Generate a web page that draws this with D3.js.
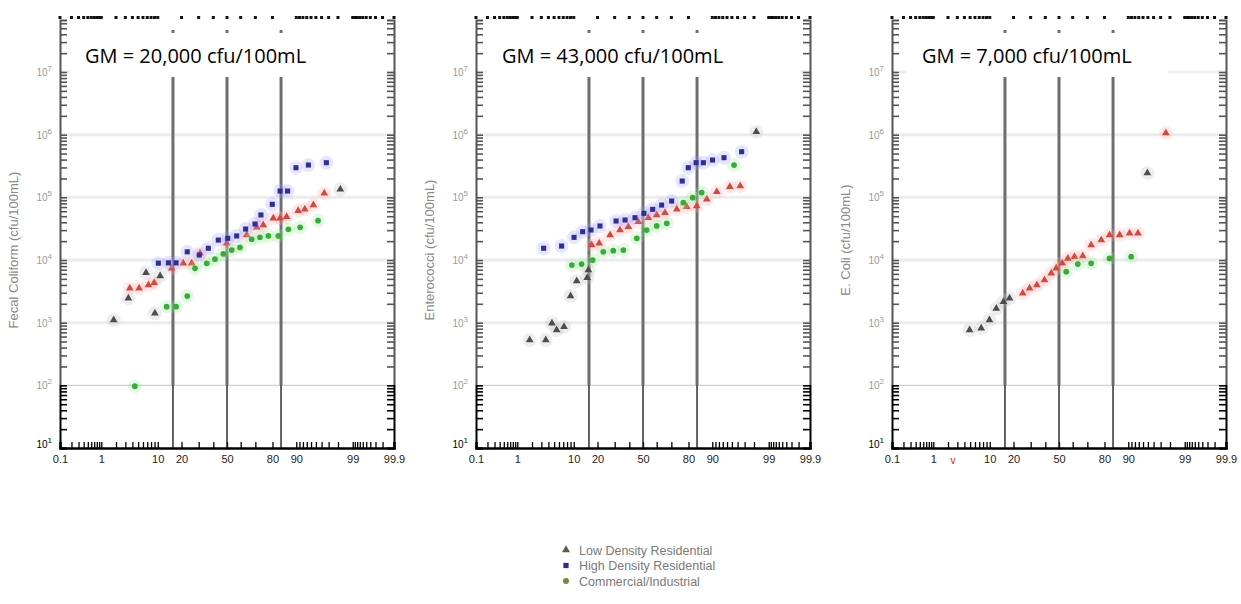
<!DOCTYPE html>
<html lang="en">
<head>
<meta charset="utf-8">
<title>Probability plots</title>
<script src="https://cdn.jsdelivr.net/npm/d3@7"></script>
<style>
  body { margin: 0; background: #fff; }
  text { font-family: "Liberation Sans", Arial, sans-serif; }
</style>
</head>
<body>
<script>
// ---- data (percent exceeded / plotting position, concentration cfu/100mL) ----
var yTitles = ["Fecal Coliform (cfu/100mL)", "Enterococci (cfu/100mL)", "E. Coli (cfu/100mL)"];
var gmLabels = ["GM = 20,000 cfu/100mL", "GM = 43,000 cfu/100mL", "GM = 7,000 cfu/100mL"];
var legendNames = ["Low Density Residential", "High Density Residential", "Commercial/Industrial"];

var probTicks = [0.1,0.2,0.3,0.4,0.5,0.6,0.7,0.8,0.9,1,2,3,4,5,6,7,8,9,10,20,30,40,50,60,70,80,90,
                 91,92,93,94,95,96,97,98,99,99.1,99.2,99.3,99.4,99.5,99.6,99.7,99.8,99.9];
var probLabels = [0.1, 1, 10, 20, 50, 80, 90, 99, 99.9];
var refLines = [15.87, 50, 84.13];
var decades = [1, 2, 3, 4, 5, 6, 7];

var fecalLow  = [[1.8,1100],[3.4,2450],[6.7,6270],[9.1,1410],[10.8,5560],[98.2,134000]];
var fecalHigh = [[10.2,8900],[13.9,9000],[17.3,9000],[23.1,13500],[30.4,12000],[36.5,15400],[43.6,20800],
                 [50.5,22200],[57.1,24200],[63.5,31200],[69.8,37500],[73.5,52300],[79.9,77400],[83.7,126000],
                 [86.9,126000],[89.9,297000],[93.4,328000],[96.7,357000]];
var fecalComm = [[4.4,97],[13.2,1800],[17.3,1800],[23.1,2660],[27.7,7360],[35.4,8850],[41.2,10300],[47.3,12500],
                 [53.5,14400],[59.5,15900],[67.6,21400],[72.9,23000],[77.8,24200],[82.9,24200],[87.2,30900],
                 [91.2,33200],[95.4,42400]];
var fecalRed  = [[3.6,3530],[5.2,3530],[7.3,3990],[8.9,4340],[15.3,7360],[20.9,8850],[25.7,8850],[30.9,12800],
                 [49.8,18500],[64.2,25100],[70.9,33200],[74.9,36100],[80.4,46300],[83.7,46300],[86.5,49100],
                 [90.6,61200],[92.5,64400],[94.5,75300],[96.4,116000]];

var entLow  = [[1.8,528],[3.6,528],[4.6,977],[5.5,764],[7.2,863],[9.0,2660],[11.0,4630],[15.1,5210],[15.6,6920],
               [98.2,1110000]];
var entHigh = [[3.3,15400],[6.6,16700],[10.1,23000],[13.2,28300],[16.8,30100],[21.3,34900],[30.9,41900],
               [37.0,43500],[44.1,47300],[50.7,55600],[57.1,64400],[63.5,75300],[70.2,87300],[76.6,182000],
               [79.9,297000],[83.7,357000],[86.8,357000],[90.1,394000],[93.3,429000],[96.6,535000]];
var entComm = [[9.4,8320],[12.8,8630],[17.6,10000],[23.1,13500],[29.1,14100],[35.8,14400],[45.4,22200],
               [52.7,30100],[60.0,34900],[67.0,38500],[77.2,82000],[82.1,98600],[86.1,119000],[95.4,328000]];
var entRed  = [[17.1,17300],[20.9,18500],[27.1,25100],[33.5,30100],[39.3,34000],[46.5,40800],[53.9,47300],
               [60.0,52300],[65.8,56900],[73.4,64400],[79.1,70800],[84.0,72700],[88.1,92900],[91.4,123000],
               [94.6,148000],[96.4,152000]];

var ecoliLow  = [[4.9,764],[7.5,813],[9.9,1100],[12.3,1690],[15.2,2160],[18.0,2450],[94.9,244000]];
var ecoliHigh = [];
var ecoliComm = [[55.3,6500],[63.6,8630],[72.4,8850],[82.5,10600],[90.9,11300]];
var ecoliRed  = [[25.1,2940],[29.3,3530],[34.1,3990],[39.4,4800],[44.3,6140],[47.9,7360],[52.4,8850],
                 [56.5,10600],[61.3,11300],[67.0,11600],[72.4,17300],[78.3,20800],[82.5,25100],[86.9,25100],
                 [90.4,26700],[92.8,26700],[97.6,1060000]];

var panelData = [
    [fecalRed, fecalComm, fecalHigh, fecalLow],
    [entRed, entLow, entComm, entHigh],
    [ecoliRed, ecoliComm, ecoliHigh, ecoliLow]
];
var seriesStyle = new Map([
    [fecalLow, "low"], [entLow, "low"], [ecoliLow, "low"],
    [fecalHigh, "high"], [entHigh, "high"], [ecoliHigh, "high"],
    [fecalComm, "comm"], [entComm, "comm"], [ecoliComm, "comm"],
    [fecalRed, "red"], [entRed, "red"], [ecoliRed, "red"]
]);
var styles = {
    low:  {sym: d3.symbolTriangle, fill: "#4d4d4d", halo: "#bbbbbb"},
    high: {sym: d3.symbolSquare,   fill: "#2e2e96", halo: "#9a9aff"},
    comm: {sym: d3.symbolCircle,   fill: "#33b033", halo: "#9be89b"},
    red:  {sym: d3.symbolTriangle, fill: "#d8473c", halo: "#ffb0b0"}
};

var width = 1241, height = 604;
var lefts = [60, 476, 892];
var plotW = 334;
var top0 = 20, bottom0 = 448, split = 385;

var svg = d3.select("body").append("svg")
    .attr("width", width)
    .attr("height", height);

var defs = svg.append("defs");
defs.append("clipPath").attr("id", "clipUp")
    .append("rect").attr("x", 0).attr("y", 0).attr("width", width).attr("height", split);
defs.append("clipPath").attr("id", "clipDown")
    .append("rect").attr("x", 0).attr("y", split).attr("width", width).attr("height", height - split);

// inverse normal cdf (Acklam)
function probit(p){
    var a=[-39.69683028665376,220.9460984245205,-275.9285104469687,138.3577518672690,-30.66479806614716,2.506628277459239];
    var b=[-54.47609879822406,161.5858368580409,-155.6989798598866,66.80131188771972,-13.28068155288572];
    var c=[-0.007784894002430293,-0.3223964580411365,-2.400758277161838,-2.549732539343734,4.374664141464968,2.938163982698783];
    var d=[0.007784695709041462,0.3224671290700398,2.445134137142996,3.754408661907416];
    var pl = 0.02425, q, r;
    if (p < pl) {
        q = Math.sqrt(-2*Math.log(p));
        return (((((c[0]*q+c[1])*q+c[2])*q+c[3])*q+c[4])*q+c[5])/((((d[0]*q+d[1])*q+d[2])*q+d[3])*q+1);
    }
    if (p > 1-pl) {
        q = Math.sqrt(-2*Math.log(1-p));
        return -(((((c[0]*q+c[1])*q+c[2])*q+c[3])*q+c[4])*q+c[5])/((((d[0]*q+d[1])*q+d[2])*q+d[3])*q+1);
    }
    q = p - 0.5; r = q*q;
    return (((((a[0]*r+a[1])*r+a[2])*r+a[3])*r+a[4])*r+a[5])*q/(((((b[0]*r+b[1])*r+b[2])*r+b[3])*r+b[4])*r+1);
}

var y = d3.scaleLog().domain([10, 6.76e7]).range([bottom0, top0]);
var minorVals = [];
decades.forEach(function(e){
    for (var m = 1; m <= 9; m++) {
        var v = m * Math.pow(10, e);
        if (v <= 6.76e7) minorVals.push(v);
    }
});

function drawPanel(i){
    var left = lefts[i], right = left + plotW;
    var x = d3.scaleLinear().domain([probit(0.001), probit(0.999)]).range([left, right]);
    var px = function(p){ return x(probit(p / 100)); };
    var g = svg.append("g");

    // decade grid lines
    g.selectAll(".grid").data(decades.slice(1)).enter().append("line")
        .attr("x1", left).attr("x2", right)
        .attr("y1", function(d){ return y(Math.pow(10, d)); })
        .attr("y2", function(d){ return y(Math.pow(10, d)); })
        .attr("stroke", function(d){ return d == 2 ? "#c4c4c4" : "#ececec"; })
        .attr("stroke-width", function(d){ return d == 2 ? 1 : 3; });

    // axes, drawn twice: grey upper part and black lower part
    [["clipUp", "#555"], ["clipDown", "#000"]].forEach(function(c){
        var ax = g.append("g").attr("clip-path", "url(#" + c[0] + ")");
        var la = ax.append("g").attr("transform", "translate(" + left + ",0)")
            .call(d3.axisLeft(y).tickValues(minorVals).tickSize(-7).tickFormat(""));
        var ra = ax.append("g").attr("transform", "translate(" + right + ",0)")
            .call(d3.axisRight(y).tickValues(minorVals).tickSize(-7).tickFormat(""));
        [la, ra].forEach(function(a){
            a.selectAll("line").attr("stroke", c[1]).attr("stroke-width", 1.6);
            a.select(".domain").attr("stroke", c[1]).attr("stroke-width", 2);
        });
    });

    // bottom axis (probability)
    var ba = g.append("g").attr("transform", "translate(0," + bottom0 + ")")
        .call(d3.axisBottom(x)
            .tickValues(probTicks.map(function(p){ return probit(p / 100); }))
            .tickSize(-6).tickPadding(7)
            .tickFormat(function(z, k){
                var p = probTicks[k];
                return probLabels.indexOf(p) >= 0 ? String(p) : "";
            }));
    ba.select(".domain").attr("stroke", "#000").attr("stroke-width", 2.5);
    ba.selectAll("line").attr("stroke", "#000").attr("stroke-width", 1.3);
    ba.selectAll("text").attr("font-size", 11).attr("fill", "#222")
        .attr("font-family", "Liberation Sans, Arial, sans-serif");

    // top dotted edge: mirrored tick marks
    g.selectAll(".topTick").data(probTicks).enter().append("rect")
        .attr("x", function(p){ return px(p) - 1.5; })
        .attr("y", 16)
        .attr("width", 3).attr("height", 3)
        .attr("fill", "#111");

    // reference lines at 16 / 50 / 84 percent
    refLines.forEach(function(p){
        g.append("line").attr("x1", px(p)).attr("x2", px(p))
            .attr("y1", 30).attr("y2", split)
            .attr("stroke", "#6e6e6e").attr("stroke-width", 3);
        g.append("line").attr("x1", px(p)).attr("x2", px(p))
            .attr("y1", split).attr("y2", bottom0)
            .attr("stroke", "#111").attr("stroke-width", 1.3);
    });

    // y tick labels
    decades.forEach(function(e){
        var t = g.append("text")
            .attr("x", left - 8)
            .attr("y", y(Math.pow(10, e)) + (e == 1 ? 0 : 4))
            .attr("text-anchor", "end")
            .attr("font-size", 10)
            .attr("fill", e == 1 ? "#000" : "#9a9a9a");
        t.append("tspan").text("10");
        t.append("tspan").attr("dy", -5).attr("font-size", 8).text(e);
    });

    // y title
    g.append("text")
        .attr("transform", "translate(" + (left - 42) + "," + (i == 2 ? 240 : 250) + ") rotate(-90)")
        .attr("text-anchor", "middle")
        .attr("font-size", 13)
        .attr("fill", "#8a8a8a")
        .text(yTitles[i]);

    // data points
    panelData[i].forEach(function(s){
        var st = styles[seriesStyle.get(s)];
        var pg = g.append("g");
        pg.selectAll(".halo").data(s).enter().append("circle")
            .attr("cx", function(d){ return px(d[0]); })
            .attr("cy", function(d){ return y(d[1]); })
            .attr("r", 7)
            .attr("fill", st.halo)
            .attr("opacity", 0.25);
        pg.selectAll(".pt").data(s).enter().append("path")
            .attr("transform", function(d){ return "translate(" + px(d[0]) + "," + y(d[1]) + ")"; })
            .attr("d", d3.symbol().type(st.sym).size(26))
            .attr("fill", st.fill);
    });

    // GM label box
    var bx = [70, 487, 907][i], bw = [317, 313, 261][i];
    g.append("rect").attr("x", bx).attr("y", 33).attr("width", bw).attr("height", 44).attr("fill", "#fff");
    g.append("text")
        .attr("x", bx + 15).attr("y", 63)
        .attr("font-size", 20)
        .attr("fill", "#000")
        .style("font-family", "'Open Sans', 'Noto Sans', sans-serif")
        .text(gmLabels[i]);
}

[0, 1, 2].forEach(drawPanel);

// stray red mark under the third panel
svg.append("text").attr("x", 953).attr("y", 464).attr("text-anchor", "middle")
    .attr("font-size", 10).attr("fill", "#e02020").text("v");

// legend
var legendSyms = [styles.low, styles.high, {sym: d3.symbolCircle, fill: "#6f8a3a"}];
var lg = svg.append("g").attr("transform", "translate(566,550)");
legendNames.forEach(function(n, k){
    lg.append("path")
        .attr("transform", "translate(0," + (k * 15.5) + ")")
        .attr("d", d3.symbol().type(legendSyms[k].sym).size(28))
        .attr("fill", k == 0 ? "#5e5e48" : legendSyms[k].fill);
    lg.append("text")
        .attr("x", 13).attr("y", k * 15.5 + 4.5)
        .attr("font-size", 12.5)
        .attr("fill", "#7a7a7a")
        .text(n);
});
</script>
</body>
</html>
